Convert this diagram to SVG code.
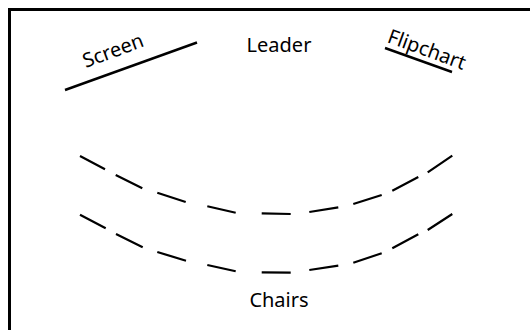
<svg xmlns="http://www.w3.org/2000/svg" width="530" height="330" viewBox="0 0 530 330">
<style>
.lbl{font-family:"Noto Sans","Open Sans","DejaVu Sans",sans-serif;font-size:20px;fill:#000}
.ln{stroke:#000;fill:none;stroke-linecap:butt}
</style>
<rect x="0" y="0" width="530" height="330" fill="#fff"/>
<rect x="9.5" y="9.5" width="530" height="340" fill="none" stroke="#000" stroke-width="3"/>
<g id="screen">
<line class="ln" x1="65" y1="90" x2="197" y2="42.5" stroke-width="2.4"/>
<text class="lbl" text-anchor="middle" transform="translate(115.5,57) rotate(-20.5)">Screen</text>
</g>
<g id="leader">
<text class="lbl" x="279" y="51.5" text-anchor="middle">Leader</text>
</g>
<g id="flipchart">
<line class="ln" x1="385" y1="48" x2="452" y2="72" stroke-width="2.4"/>
<text class="lbl" text-anchor="middle" transform="translate(424.5,56) rotate(20)">Flipchart</text>
</g>
<g id="chairs">
<path id="row1" class="ln" stroke-width="2.2" d="M80,156L105,169.3M115.7,175L142.3,188.3M157.3,192.7L185.7,202M207.3,206.3L235.7,212.7M261.7,213.3L290.7,214M309.3,212L338.3,207.3M353.3,204L381.7,195M392.3,190.7L418.3,177M427.7,172.3L452.3,155.7"/>
<path id="row2" class="ln" stroke-width="2.2" d="M80,214.7L105.7,228.3M116,234L142.7,247.3M157.3,252L186,260.7M207.3,265L235.7,271.3M261.7,272.3L290.7,272.7M309.3,270L338.3,265.7M353.3,262.7L381.7,253.3M392.3,248.3L418.3,234.3M427.7,230L452.3,214"/>
<text class="lbl" x="279" y="307" text-anchor="middle">Chairs</text>
</g>
</svg>
